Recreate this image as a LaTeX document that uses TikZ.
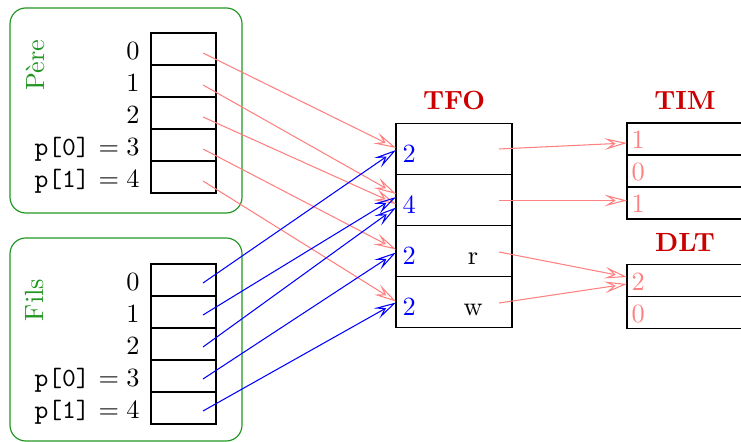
\documentclass[tikz,border=0pt]{standalone}
\usetikzlibrary{arrows.meta,calc}
\definecolor{pinkc}{RGB}{255,128,128}
\definecolor{greenc}{RGB}{34,150,34}
\definecolor{redc}{RGB}{204,0,0}
\definecolor{bluec}{RGB}{0,0,255}
\begin{document}
\begin{tikzpicture}[x=0.38pt,y=-0.38pt,
  cell/.style={draw,line width=0.5pt,minimum width=24.7pt,minimum height=12.16pt,inner sep=0pt,outer sep=0pt},
  tcell/.style={draw,line width=0.5pt,minimum width=44.08pt,minimum height=19.38pt,inner sep=0pt,outer sep=0pt},
  mcell/.style={draw,line width=0.5pt,minimum width=53.2pt,minimum height=12.16pt,inner sep=0pt,outer sep=0pt},
  groupbox/.style={draw=greenc,line width=0.45pt,rounded corners=6pt,inner sep=0pt},
  grouplabel/.style={text=greenc,rotate=90,inner sep=0pt},
  lab/.style={anchor=base east,inner sep=0pt},
  title/.style={anchor=base,text=redc,font=\bfseries,inner sep=0pt},
  bnum/.style={anchor=base west,text=bluec,inner sep=0pt},
  pnum/.style={anchor=base west,text=pinkc,inner sep=0pt},
  txt/.style={anchor=base,inner sep=0pt},
  parr/.style={draw=pinkc,line width=0.4pt,-{Stealth[open,length=8.5pt,width=4.4pt,inset=3.4pt]}},
  barr/.style={draw=bluec,line width=0.4pt,-{Stealth[open,length=8.5pt,width=4.4pt,inset=3.4pt]}}
]
\clip (0,0) rectangle (741,442);

% group boxes
\node[groupbox,minimum width=88.16pt,minimum height=77.9pt] (pere) at (126,110.5) {};
\node[groupbox,minimum width=88.16pt,minimum height=77.14pt] (fils) at (126,339.5) {};
\node[grouplabel] (perelab) at (35,65) {Père};
\node[grouplabel] (filslab) at (35,300) {Fils};

% Pere cells
\foreach \i/\y in {0/49,1/81,2/113,3/145,4/177}{
  \node[cell] (p\i) at (183.5,\y) {};
}
\foreach \i/\y in {0/280,1/312,2/344,3/376,4/408}{
  \node[cell] (f\i) at (183.5,\y) {};
}
% labels
\node[lab] (pl0) at (140,60) {0};
\node[lab] (pl1) at (140,92) {1};
\node[lab] (pl2) at (140,124) {2};
\node[lab] (pl3) at (140,156) {\texttt{p[0]} $=3$};
\node[lab] (pl4) at (140,188) {\texttt{p[1]} $=4$};
\node[lab] (fl0) at (140,291) {0};
\node[lab] (fl1) at (140,323) {1};
\node[lab] (fl2) at (140,355) {2};
\node[lab] (fl3) at (140,387) {\texttt{p[0]} $=3$};
\node[lab] (fl4) at (140,419) {\texttt{p[1]} $=4$};

% TFO
\node[title] (tfo) at (454,110) {TFO};
\node[tcell] (t1) at (454,149) {};
\node[tcell] (t2) at (454,200) {};
\node[tcell] (t3) at (454,251) {};
\node[tcell] (t4) at (454,302) {};
\node[bnum] (tn1) at (402,163) {2};
\node[bnum] (tn2) at (402,214) {4};
\node[bnum] (tn3) at (402,265) {2};
\node[bnum] (tn4) at (402,316) {2};
\node[txt] (tr) at (473,265) {r};
\node[txt] (tw) at (473,316) {w};

% TIM
\node[title] (tim) at (685,110) {TIM};
\node[mcell] (m1) at (697,139) {};
\node[mcell] (m2) at (697,171) {};
\node[mcell] (m3) at (697,203) {};
\node[pnum] (mn1) at (631,149) {1};
\node[pnum] (mn2) at (631,181) {0};
\node[pnum] (mn3) at (631,213) {1};

% DLT
\node[title] (dlt) at (685,252) {DLT};
\node[mcell] (d1) at (697,280.5) {};
\node[mcell] (d2) at (697,312.5) {};
\node[pnum] (dn1) at (631,290.5) {2};
\node[pnum] (dn2) at (631,322.5) {0};

% Pere arrows
\draw[parr] ($(p0)+(19.5,4)$) -- ($(t1.west)+(0,-1)$);
\draw[parr] ($(p1)+(19.5,4)$) -- ($(t2.west)+(0,-6)$);
\draw[parr] ($(p2)+(19.5,4)$) -- ($(t2.west)+(0,4)$);
\draw[parr] ($(p3)+(19.5,4)$) -- ($(t3.west)+(0,-1.5)$);
\draw[parr] ($(p4)+(19.5,4)$) -- ($(t4.west)+(0,-0.5)$);
% Fils arrows
\draw[barr] ($(f0)+(19.5,3)$) -- ($(t1.west)+(0,1)$);
\draw[barr] ($(f1)+(19.5,3)$) -- ($(t2.west)+(0,-3)$);
\draw[barr] ($(f2)+(19.5,3)$) -- ($(t2.west)+(0,7.5)$);
\draw[barr] ($(f3)+(19.5,3)$) -- ($(t3.west)+(0,1.5)$);
\draw[barr] ($(f4)+(19.5,3)$) -- ($(t4.west)+(0,0.5)$);
% TFO -> TIM / DLT
\draw[parr] ($(t1)+(45,0)$) -- ($(m1.west)+(0,4)$);
\draw[parr] ($(t2)+(45,0.5)$) -- ($(m3.west)+(0,-2.5)$);
\draw[parr] ($(t3)+(45,1)$) -- ($(d1.west)+(0,-3.5)$);
\draw[parr] ($(t4)+(45,1)$) -- ($(d1.west)+(0,3.5)$);
\end{tikzpicture}
\end{document}
